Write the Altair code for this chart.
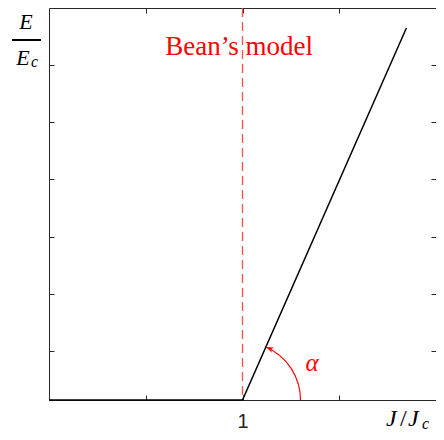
import math
import altair as alt
import pandas as pd

# ---- data ----
J = [0.0, 1.0, 1.847]          # J / Jc
E = [0.0, 0.0, 6.51]           # E / Ec
x_domain = [0, 2]
y_domain = [0, 6.86]
x_ticks = [0.5, 1.0, 1.5]
y_ticks = [0.86, 1.86, 2.86, 3.86, 4.86, 5.86]
bean_J = [1.0]
bean_label = ["Bean\u2019s model"]
bean_label_J = [0.982]
bean_label_E = [6.18]
alpha_center_J = [1.0]
alpha_center_E = [0.0]
alpha_deg = 66
arrow_J = [1.122]
arrow_E = [0.927]
alpha_label_J = [1.36]
alpha_label_E = [0.65]

W, H = 387, 392
AX = "#262626"
RED = "#ff0000"

df_line = pd.DataFrame({"J": J, "E": E})
df_bean = pd.DataFrame({"J": bean_J})
df_bean_lbl = pd.DataFrame({"J": bean_label_J, "E": bean_label_E, "t": bean_label})
df_arc = pd.DataFrame({"J": alpha_center_J, "E": alpha_center_E})
df_arrow = pd.DataFrame({"J": arrow_J, "E": arrow_E})
df_alpha = pd.DataFrame({"J": alpha_label_J, "E": alpha_label_E, "t": ["\u03b1"]})

xs = alt.Scale(domain=x_domain, nice=False, zero=False)
ys = alt.Scale(domain=y_domain, nice=False, zero=False)

tick_kw = dict(labels=False, domain=False, ticks=True, tickSize=5, tickColor=AX,
               tickWidth=1, grid=False, title=None)

ax_bottom = alt.Axis(orient="bottom", values=x_ticks,
                     labelExpr="datum.value == 1 ? '1' : ''",
                     ticks=False, domain=False, grid=False, title=None,
                     labelPadding=11, labelFontSize=20, labelFont="Liberation Sans",
                     labelColor=AX)
ax_in_bottom = alt.Axis(orient="top", offset=-H, values=x_ticks, **tick_kw)
ax_in_top = alt.Axis(orient="bottom", offset=-H, values=x_ticks, **tick_kw)
ay_in_left = alt.Axis(orient="right", offset=-W, values=y_ticks, **tick_kw)
ay_in_right = alt.Axis(orient="left", offset=-W, values=y_ticks, **tick_kw)

line = alt.Chart(df_line).mark_line(color="black", strokeWidth=1.5).encode(
    x=alt.X("J:Q", scale=xs, axis=ax_bottom),
    y=alt.Y("E:Q", scale=ys, axis=ay_in_left),
)

ghost = alt.Chart(df_line).mark_point(opacity=0).encode(
    x=alt.X("J:Q", scale=xs, axis=ax_in_top),
    y=alt.Y("E:Q", scale=ys, axis=ay_in_right),
)

ghost2 = alt.Chart(df_line).mark_point(opacity=0).encode(
    x=alt.X("J:Q", scale=xs, axis=ax_in_bottom),
    y=alt.Y("E:Q", scale=ys, axis=None),
)

bean = alt.Chart(df_bean).mark_rule(color="#ff4d4d", strokeWidth=1.3,
                                    strokeDash=[9, 5]).encode(
    x=alt.X("J:Q", scale=xs, axis=None),
)

bean_txt = alt.Chart(df_bean_lbl).mark_text(font="Liberation Serif", fontSize=27,
                                            color=RED, align="center",
                                            baseline="middle").encode(
    x=alt.X("J:Q", scale=xs, axis=None),
    y=alt.Y("E:Q", scale=ys, axis=None),
    text="t:N",
)

arc = alt.Chart(df_arc).mark_arc(radius=58, radius2=58,
                                 theta=math.radians(90 - alpha_deg),
                                 theta2=math.radians(90),
                                 stroke=RED, strokeWidth=1.2, fillOpacity=0).encode(
    x=alt.X("J:Q", scale=xs, axis=None),
    y=alt.Y("E:Q", scale=ys, axis=None),
)

arrow = alt.Chart(df_arrow).mark_point(shape="M-0.6,1.6L0,0L0.6,1.6L0,1.15Z",
                                       filled=True, color=RED, size=90, opacity=1,
                                       angle=360 - alpha_deg).encode(
    x=alt.X("J:Q", scale=xs, axis=None),
    y=alt.Y("E:Q", scale=ys, axis=None),
)

alpha_txt = alt.Chart(df_alpha).mark_text(font="Liberation Serif", fontSize=25,
                                          fontStyle="italic", color=RED,
                                          align="center", baseline="middle").encode(
    x=alt.X("J:Q", scale=xs, axis=None),
    y=alt.Y("E:Q", scale=ys, axis=None),
    text="t:N",
)

# ---- axis titles (E/Ec fraction, J/Jc) ----
serif_it = dict(font="Liberation Serif", fontStyle="italic", color="black")


def txt(s, size, x, y, align="left"):
    return alt.Chart(df_arc).mark_text(text=s, fontSize=size, align=align,
                                       baseline="alphabetic", **serif_it).encode(
        x=alt.value(x), y=alt.value(y))


e_top = txt("E", 22, -23, 21, "center")
e_bar = alt.Chart(df_arc).mark_rule(color="black", strokeWidth=2).encode(
    x=alt.value(-37), x2=alt.value(-8), y=alt.value(32))
e_bot = txt("E", 22, -26, 57, "center")
e_sub = txt("c", 16, -18, 59)

j1 = txt("J", 24, 337, 418)
j_slash = alt.Chart(df_arc).mark_text(text="/", fontSize=24, align="left",
                                      baseline="alphabetic", font="Liberation Serif",
                                      color="black").encode(
    x=alt.value(351), y=alt.value(418))
j2 = txt("J", 24, 359, 418)
j_sub = txt("c", 16, 373, 421)

chart = alt.layer(
    bean, line, ghost, ghost2, bean_txt, arc, arrow, alpha_txt,
    e_top, e_bar, e_bot, e_sub, j1, j_slash, j2, j_sub,
).resolve_axis(x="independent", y="independent").properties(
    width=W, height=H, autosize="none",
    padding={"left": 41, "top": 0, "right": 0, "bottom": 32},
    background="white",
).configure_view(stroke=AX, strokeWidth=1)

chart.save("out.html", embed_options={"renderer": "svg", "actions": False})
